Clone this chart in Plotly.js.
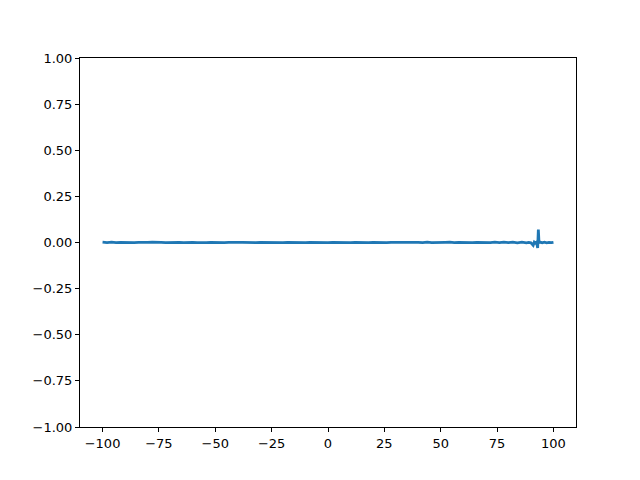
<!DOCTYPE html>
<html>
<head>
<meta charset="utf-8">
<script src="https://cdn.plot.ly/plotly-3.0.1.min.js"></script>
<style>html,body{margin:0;padding:0;background:#fff;}#plot{width:640px;height:480px;}</style>
</head>
<body>
<div id="plot"></div>
<script>
var xValues = [-100,-98,-96,-94,-92,-90,-88,-86,-84,-82,-80,-78,-76,-74,-72,-70,-68,-66,-64,-62,-60,-58,-56,-54,-52,-50,-48,-46,-44,-42,-40,-38,-36,-34,-32,-30,-28,-26,-24,-22,-20,-18,-16,-14,-12,-10,-8,-6,-4,-2,0,2,4,6,8,10,12,14,16,18,20,22,24,26,28,30,32,34,36,38,40,42,44,46,48,50,52,54,56,58,60,62,64,66,68,70,72,74,76,78,80,82,84,86,88,89,90,91,91.5,92,92.5,93,93.3,93.6,94,95,96,97,98,99,100];
var yValues = [0.0015,-0.001,0.0015,-0.001,0.001,-0.0005,0.0015,-0.001,0.0005,-0.001,0.001,0.0015,-0.001,0.0005,-0.001,0.001,-0.0005,0.001,-0.001,0.0005,0.001,-0.001,0.001,-0.0005,0.0005,-0.001,0.001,-0.0005,0.001,-0.001,0.0005,0.001,-0.0005,0.001,-0.001,0.0005,-0.0005,0.001,-0.0005,0.0005,-0.0005,0.0005,-0.0005,0.0005,0.000,-0.0005,0.0005,-0.0005,0.000,0.0005,-0.0005,0.0005,-0.0005,0.0005,0.000,-0.0005,0.001,-0.0005,0.0005,-0.001,0.001,-0.0005,0.001,-0.001,0.0005,0.001,-0.001,0.0005,0.001,-0.001,0.001,-0.001,0.0015,-0.001,0.001,-0.001,0.001,0.0015,-0.001,0.001,-0.001,0.001,-0.001,0.001,-0.001,0.001,-0.001,0.0015,-0.001,0.0015,-0.001,0.0015,-0.0015,0.002,-0.0015,0.001,-0.002,-0.015,0.002,-0.003,0.002,-0.030,0.070,-0.004,0.003,-0.002,0.002,-0.0015,0.001,-0.001,0.001];

var trace = {
  x: xValues, y: yValues, type: 'scatter', mode: 'lines',
  line: {color: '#1f77b4', width: 2.8}, hoverinfo: 'skip'
};
var axisBase = {
  showgrid: false, zeroline: false, showline: true, mirror: true,
  linecolor: '#000', linewidth: 1, ticks: 'outside', ticklen: 4, tickwidth: 1,
  tickcolor: '#000', tickfont: {family: 'DejaVu Sans', size: 13, color: '#000'}
};
var layout = {
  width: 640, height: 480,
  margin: {l: 80, r: 64, t: 58, b: 53},
  paper_bgcolor: '#fff', plot_bgcolor: '#fff',
  showlegend: false,
  xaxis: Object.assign({}, axisBase, {range: [-110, 110], tickvals: [-100,-75,-50,-25,0,25,50,75,100]}),
  yaxis: Object.assign({}, axisBase, {range: [-1, 1], tickvals: [-1,-0.75,-0.5,-0.25,0,0.25,0.5,0.75,1], tickformat: '.2f'})
};
Plotly.newPlot('plot', [trace], layout, {staticPlot: true, displayModeBar: false});
</script>
</body>
</html>
